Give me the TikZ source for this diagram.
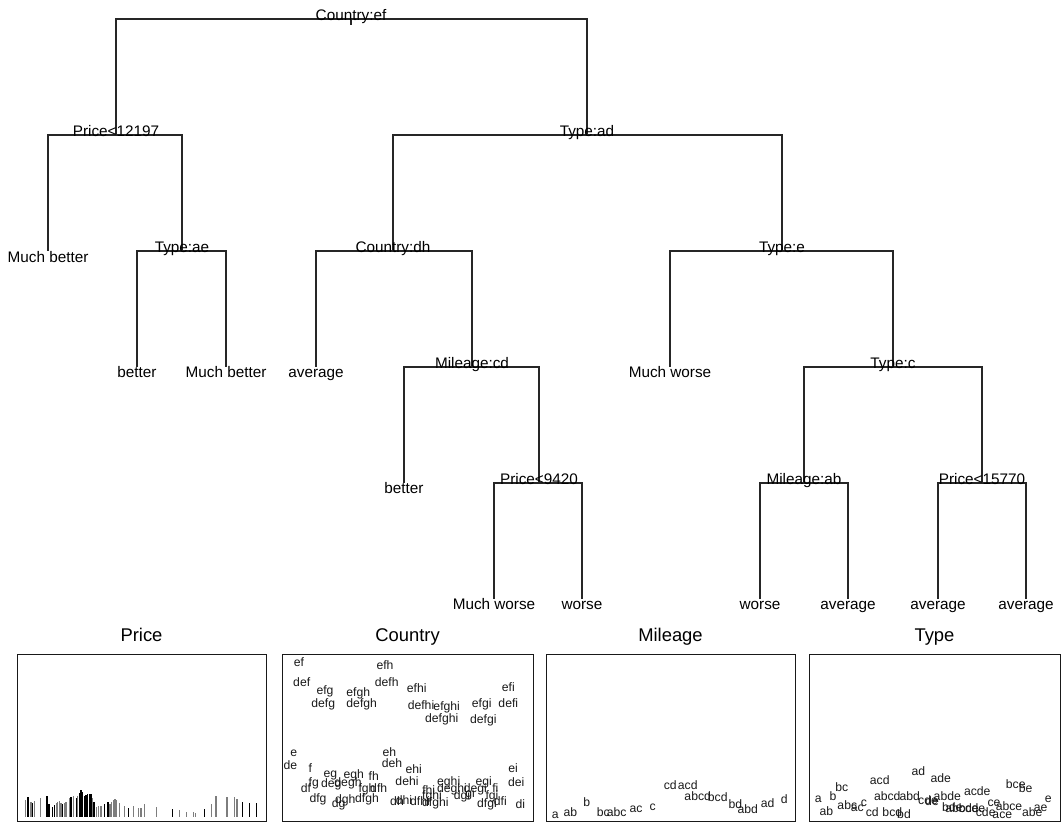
\documentclass[tikz,border=0pt]{standalone}
\usepackage{fontspec}
\setmainfont{Liberation Sans}
\definecolor{bargray}{RGB}{125,125,125}
\begin{document}
\begin{tikzpicture}[x=1pt,y=-1pt,
  branch/.style={line width=1.3pt, black!85},
  split/.style={font=\fontsize{15.3}{18}\selectfont, anchor=base, inner sep=0pt},
  leaf/.style={font=\fontsize{15.3}{18}\selectfont, anchor=base, inner sep=0pt},
  ptitle/.style={font=\fontsize{18.4}{22}\selectfont, anchor=base, inner sep=0pt},
  plab/.style={font=\fontsize{12.2}{14}\selectfont, anchor=base, inner sep=0pt, text=black!90},
  panel/.style={line width=1pt, black!90},
  kbar/.style={line width=1.3pt, black},
  gbar/.style={line width=1.3pt, bargray}]
\useasboundingbox (0,0) rectangle (1063,823);

% ---------- tree points ----------
\coordinate (root) at (351,19);
\coordinate (rootstub) at (351,25);
\coordinate (n2) at (116,135);
\coordinate (n3) at (587,135);
\coordinate (l4) at (48,251);
\coordinate (n5) at (182,251);
\coordinate (l10) at (137,367);
\coordinate (l11) at (226,367);
\coordinate (n6) at (393,251);
\coordinate (l12) at (316,367);
\coordinate (n13) at (472,367);
\coordinate (l26) at (404,483);
\coordinate (n27) at (539,483);
\coordinate (l54) at (494,599);
\coordinate (l55) at (582,599);
\coordinate (n7) at (782,251);
\coordinate (l14) at (670,367);
\coordinate (n15) at (893,367);
\coordinate (n30) at (804,483);
\coordinate (l60) at (760,599);
\coordinate (l61) at (848,599);
\coordinate (n31) at (982,483);
\coordinate (l62) at (938,599);
\coordinate (l63) at (1026,599);

% ---------- branches ----------
\draw[branch] (root) -- (rootstub);
\draw[branch] (root) -| (n2);
\draw[branch] (root) -| (n3);
\draw[branch] (n2) -| (l4);
\draw[branch] (n2) -| (n5);
\draw[branch] (n5) -| (l10);
\draw[branch] (n5) -| (l11);
\draw[branch] (n3) -| (n6);
\draw[branch] (n3) -| (n7);
\draw[branch] (n6) -| (l12);
\draw[branch] (n6) -| (n13);
\draw[branch] (n13) -| (l26);
\draw[branch] (n13) -| (n27);
\draw[branch] (n27) -| (l54);
\draw[branch] (n27) -| (l55);
\draw[branch] (n7) -| (l14);
\draw[branch] (n7) -| (n15);
\draw[branch] (n15) -| (n30);
\draw[branch] (n15) -| (n31);
\draw[branch] (n30) -| (l60);
\draw[branch] (n30) -| (l61);
\draw[branch] (n31) -| (l62);
\draw[branch] (n31) -| (l63);

% ---------- split labels ----------
\node[split] (t1) at (351,20) {Country:ef};
\node[split] (t2) at (116,136) {Price<12197};
\node[split] (t3) at (587,136) {Type:ad};
\node[split] (t5) at (182,252) {Type:ae};
\node[split] (t6) at (393,252) {Country:dh};
\node[split] (t7) at (782,252) {Type:e};
\node[split] (t13) at (472,368) {Mileage:cd};
\node[split] (t15) at (893,368) {Type:c};
\node[split] (t27) at (539,484) {Price<9420};
\node[split] (t30) at (804,484) {Mileage:ab};
\node[split] (t31) at (982,484) {Price<15770};

% ---------- leaf labels ----------
\node[leaf] (f4) at (48,262) {Much better};
\node[leaf] (f10) at (137,377.5) {better};
\node[leaf] (f11) at (226,377.5) {Much better};
\node[leaf] (f12) at (316,377.5) {average};
\node[leaf] (f14) at (670,377.5) {Much worse};
\node[leaf] (f26) at (404,493.5) {better};
\node[leaf] (f54) at (494,609.5) {Much worse};
\node[leaf] (f55) at (582,609.5) {worse};
\node[leaf] (f60) at (760,609.5) {worse};
\node[leaf] (f61) at (848,609.5) {average};
\node[leaf] (f62) at (938,609.5) {average};
\node[leaf] (f63) at (1026,609.5) {average};

% ---------- panels ----------
\draw[panel] (17,654) rectangle (266,821.5);
\draw[panel] (282,654) rectangle (533,821.5);
\draw[panel] (546,654) rectangle (795,821.5);
\draw[panel] (809,654) rectangle (1060,821.5);
\node[ptitle] (pt1) at (141.5,641) {Price};
\node[ptitle] (pt2) at (407.5,641) {Country};
\node[ptitle] (pt3) at (670.5,641) {Mileage};
\node[ptitle] (pt4) at (934.5,641) {Type};

% Price bars (zoom coordinates: x = 17 + zx/3, top = 765 + zy/3)
\foreach \zx/\zy/\s in {26/105/gbar,33/97/kbar,42/112/gbar,47/113/kbar,53/107/gbar,71/98/gbar,
  90/94/kbar,96/118/kbar,106/125/kbar,113/120/kbar,118/115/gbar,122/110/gbar,127/108/gbar,
  132/115/gbar,136/117/kbar,142/113/gbar,147/112/gbar,157/100/gbar,162/95/kbar,170/93/gbar,
  178/100/kbar,182/92/gbar,187/85/kbar,192/76/kbar,197/80/kbar,202/92/kbar,207/90/kbar,
  212/88/kbar,217/86/kbar,222/86/kbar,226/100/gbar,231/112/kbar,238/125/gbar,245/123/gbar,
  252/122/gbar,262/116/kbar,273/110/kbar,279/117/gbar,284/110/gbar,289/106/gbar,294/103/gbar,
  297/104/gbar,307/113/gbar,323/122/gbar,335/130/kbar,350/124/gbar,365/128/gbar,372/128/gbar,
  383/118/gbar,419/125/gbar,466/132/kbar,488/136/gbar,509/140/gbar,530/141/gbar,535/143/gbar,
  562/132/kbar,583/118/gbar,597/92/gbar,630/96/gbar,652/97/gbar,660/102/gbar,677/112/kbar,
  698/115/kbar,718/115/kbar}
  \draw[\s] ({17+\zx/3},816.7) -- ({17+\zx/3},{765+\zy/3});

% Country labels
\foreach \x/\y/\t [count=\i] in {299/661.7/ef,385/665/efh,301.7/681.7/def,386.7/681.7/defh,
  325/690/efg,358.3/691.7/efgh,323.3/703.3/defg,361.7/703.3/defgh,416.7/688.3/efhi,
  421/705/defhi,446.7/705.7/efghi,441.7/718.3/defghi,481.7/703.3/efgi,483.3/719/defgi,
  508.3/686.7/efi,508.3/703.3/defi,
  293.7/751.7/e,290.3/765/de,310.3/768/f,313.7/781.7/fg,306/788/df,318/798/dfg,
  330.3/773/eg,331.3/782.7/deg,353.7/774/egh,348/782/degh,373.7/776/fh,367/787.7/fgh,
  378.7/787.7/dfh,367/797.7/dfgh,345.3/799/dgh,338.7/802.7/dg,389.3/751.7/eh,392/763.3/deh,
  413.7/769/ehi,407/780.7/dehi,397/800.7/dh,404/799.5/dhi,428.7/790/fhi,432/795/fghi,
  420/800.5/dfhi,435.3/801.7/dfghi,448.7/780.7/eghi,452/787.7/deghi,475.3/787.7/degi,
  483.7/780.7/egi,462/795/dgi,470/793/gi,495.3/787.7/fi,492/795/fgi,487/803.3/dfgi,
  500.3/801/dfi,513/768.3/ei,516.3/781.7/dei,520.3/804/di}
  \node[plab] (c\i) at (\x,{\y+4.5}) {\t};

% Mileage labels
\foreach \x/\y/\t [count=\i] in {555.3/814.3/a,570.3/811.7/ab,586.7/802.3/b,603.3/811.7/bc,
  616.7/812.3/abc,636/808.3/ac,652.7/806/c,670.3/785/cd,687.7/785/acd,697.7/796/abcd,
  717.7/796.7/bcd,735.3/804.3/bd,747.7/809/abd,767.7/803.3/ad,784.3/799.3/d}
  \node[plab] (m\i) at (\x,{\y+4.5}) {\t};

% Type labels
\foreach \x/\y/\t [count=\i] in {818.3/798.3/a,826.3/811/ab,833/796/b,841.7/787.3/bc,
  847.3/805/abc,857.3/806.7/ac,864/801.7/c,872.3/812.3/cd,879.7/780/acd,887.3/795.7/abcd,
  909.7/795.7/abd,892.3/812.3/bcd,904/814.3/bd,918.3/770.7/ad,940.7/778.3/ade,
  928/800/cde,932/801/de,947.3/796/abde,977.3/790.7/acde,952.3/807.3/bde,
  962/808.3/abcde,972/808.3/bcde,985.7/811.7/cde,994/801.7/ce,1002.3/814/ace,
  1009/806/abce,1015.7/784/bce,1025.7/788.3/be,1032.3/812.3/abe,1040.7/807.3/ae,
  1048.3/798.3/e}
  \node[plab] (y\i) at (\x,{\y+4.5}) {\t};
\end{tikzpicture}
\end{document}
